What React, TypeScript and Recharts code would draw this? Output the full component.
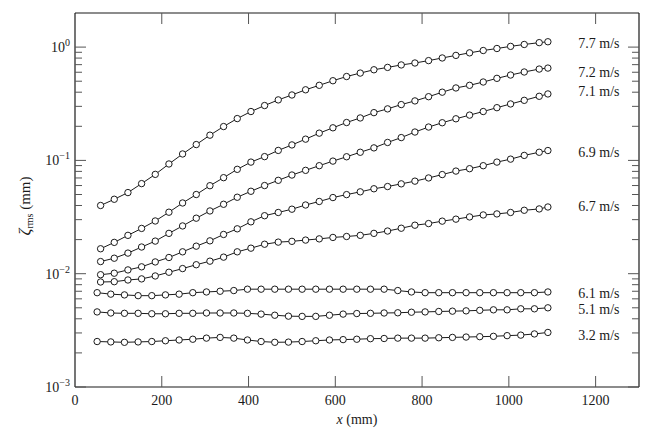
import React from 'react';
import { LineChart, Line, XAxis, YAxis, ReferenceDot } from 'recharts';

const FONT = '"Liberation Serif", "Times New Roman", Times, serif';
const INK = '#1a1a1a';
const TICK = '#555';

// x positions (mm) of the measurement stations
const xsUpper = [59, 90.5, 122, 153.5, 185, 216.5, 248, 279.5, 311, 342.5, 374, 405.5, 437, 468.5, 500, 531.5, 563, 594.5, 626, 657.5, 689, 720.5, 752, 783.5, 815, 846.5, 878, 909.5, 941, 972.5, 1004, 1035.5, 1070, 1090];
const xsLower = [51, 82.5, 114, 145.5, 177, 208.5, 240, 271.5, 303, 334.5, 366, 397.5, 429, 460.5, 492, 523.5, 555, 586.5, 618, 649.5, 681, 712.5, 744, 775.5, 807, 838.5, 870, 901.5, 933, 964.5, 996, 1027.5, 1059, 1090];

// zeta_rms (mm) per wind speed
const z77 = [0.040, 0.0454, 0.052, 0.0624, 0.0753, 0.093, 0.114, 0.138, 0.167, 0.199, 0.234, 0.270, 0.305, 0.342, 0.378, 0.420, 0.460, 0.505, 0.550, 0.590, 0.631, 0.662, 0.696, 0.724, 0.760, 0.802, 0.845, 0.89, 0.933, 0.972, 1.015, 1.055, 1.095, 1.115];
const z72 = [0.0166, 0.0189, 0.0218, 0.0251, 0.0292, 0.0349, 0.0421, 0.050, 0.0598, 0.0704, 0.0834, 0.0966, 0.108, 0.1225, 0.137, 0.154, 0.174, 0.194, 0.216, 0.237, 0.264, 0.285, 0.311, 0.335, 0.365, 0.400, 0.436, 0.460, 0.492, 0.530, 0.567, 0.603, 0.640, 0.653];
const z71 = [0.0128, 0.0137, 0.0152, 0.0172, 0.0194, 0.0227, 0.0264, 0.0309, 0.0358, 0.041, 0.0473, 0.0534, 0.0600, 0.0667, 0.0743, 0.0817, 0.0898, 0.0986, 0.1077, 0.118, 0.129, 0.144, 0.159, 0.178, 0.197, 0.215, 0.233, 0.251, 0.270, 0.292, 0.315, 0.339, 0.368, 0.386];
const z69 = [0.0098, 0.0101, 0.0108, 0.0115, 0.0127, 0.0139, 0.0156, 0.0175, 0.0195, 0.0222, 0.0249, 0.0287, 0.0325, 0.0347, 0.0371, 0.0404, 0.0434, 0.047, 0.0499, 0.0528, 0.0562, 0.0588, 0.0621, 0.0656, 0.0700, 0.0750, 0.0805, 0.0845, 0.0898, 0.0966, 0.1026, 0.1107, 0.118, 0.1222];
const z67 = [0.00845, 0.0085, 0.0088, 0.0090, 0.00955, 0.0103, 0.0111, 0.0120, 0.0129, 0.0140, 0.0156, 0.0168, 0.0182, 0.0190, 0.0193, 0.0198, 0.0203, 0.0209, 0.0213, 0.0218, 0.0227, 0.0238, 0.0252, 0.0268, 0.0277, 0.0291, 0.0303, 0.0317, 0.033, 0.0337, 0.0347, 0.0363, 0.0373, 0.0388];
const z61 = [0.0068, 0.0066, 0.0065, 0.0064, 0.0064, 0.0065, 0.0066, 0.0068, 0.0069, 0.0070, 0.0071, 0.0073, 0.0073, 0.0073, 0.0073, 0.0073, 0.0073, 0.0073, 0.0073, 0.0073, 0.0073, 0.0073, 0.0071, 0.0069, 0.0068, 0.0068, 0.0068, 0.0068, 0.0068, 0.0068, 0.0068, 0.0068, 0.0068, 0.0069];
const z51 = [0.0046, 0.0045, 0.00447, 0.00447, 0.00443, 0.00443, 0.00447, 0.00447, 0.0045, 0.0045, 0.0045, 0.00447, 0.0044, 0.0043, 0.00422, 0.0042, 0.0042, 0.0043, 0.0044, 0.00445, 0.00447, 0.0045, 0.00452, 0.00457, 0.0046, 0.00464, 0.00467, 0.0047, 0.00475, 0.0048, 0.0048, 0.0049, 0.0049, 0.005];
const z32 = [0.00252, 0.0025, 0.00248, 0.0025, 0.00252, 0.00256, 0.0026, 0.00264, 0.0027, 0.00274, 0.0027, 0.0026, 0.00252, 0.00248, 0.00249, 0.00252, 0.00256, 0.0026, 0.00262, 0.00264, 0.00267, 0.00268, 0.0027, 0.0027, 0.0027, 0.00272, 0.00274, 0.00276, 0.00278, 0.0028, 0.00284, 0.00287, 0.00294, 0.00303];

// speed labels and where they sit (value on the y axis)
const speedLabels = ['7.7 m/s', '7.2 m/s', '7.1 m/s', '6.9 m/s', '6.7 m/s', '6.1 m/s', '5.1 m/s', '3.2 m/s'];
const labelValues = [1.097, 0.598, 0.413, 0.118, 0.0396, 0.00673, 0.00489, 0.0029];
const labelX = 1160;

// axis ticks
const X_MIN = 0;
const X_MAX = 1300;
const Y_MIN = 0.001;
const Y_MAX = 2;
const xTicks = [0, 200, 400, 600, 800, 1000, 1200];
const xTickMarks = [200, 400, 600, 800, 1000, 1200];
const yMajorValues = [0.001, 0.01, 0.1, 1];
const yMajorExponents = ['\u22123', '\u22122', '\u22121', '0'];
const yMinorValues = [
  0.002, 0.003, 0.004, 0.005, 0.006, 0.007, 0.008, 0.009,
  0.02, 0.03, 0.04, 0.05, 0.06, 0.07, 0.08, 0.09,
  0.2, 0.3, 0.4, 0.5, 0.6, 0.7, 0.8, 0.9,
];

const seriesList = [
  { name: '7.7', xs: xsUpper, ys: z77 },
  { name: '7.2', xs: xsUpper, ys: z72 },
  { name: '7.1', xs: xsUpper, ys: z71 },
  { name: '6.9', xs: xsUpper, ys: z69 },
  { name: '6.7', xs: xsUpper, ys: z67 },
  { name: '6.1', xs: xsLower, ys: z61 },
  { name: '5.1', xs: xsLower, ys: z51 },
  { name: '3.2', xs: xsLower, ys: z32 },
].map((s) => ({ name: s.name, data: s.xs.map((x, i) => ({ x, y: s.ys[i] })) }));

const majorIndex = (v: number) => yMajorValues.findIndex((m) => Math.abs(m - v) / m < 1e-6);

const LeftTickLabel = (props: any) => {
  const { x, y, payload } = props;
  const i = majorIndex(payload.value);
  return (
    <text x={x - 5} y={y + 5} textAnchor="end" fontFamily={FONT} fontSize={14} fill={INK}>
      10
      <tspan dy={-6} fontSize={10}>{yMajorExponents[i]}</tspan>
    </text>
  );
};

const BottomTickLabel = (props: any) => {
  const { x, y, payload } = props;
  return (
    <text x={x} y={y + 18} textAnchor="middle" fontFamily={FONT} fontSize={14} fill={INK}>
      {payload.value}
    </text>
  );
};

// inward tick marks, anchored at a data point on the frame
const TickDown = (p: any) => <path d={`M${p.cx},${p.cy}v11`} stroke={TICK} strokeWidth={1} fill="none" />;
const TickUp = (p: any) => <path d={`M${p.cx},${p.cy}v-11`} stroke={TICK} strokeWidth={1} fill="none" />;
const TickRightMajor = (p: any) => <path d={`M${p.cx},${p.cy}h11`} stroke={TICK} strokeWidth={1} fill="none" />;
const TickRightMinor = (p: any) => <path d={`M${p.cx},${p.cy}h7`} stroke={TICK} strokeWidth={1} fill="none" />;
const TickLeftMajor = (p: any) => <path d={`M${p.cx},${p.cy}h-11`} stroke={TICK} strokeWidth={1} fill="none" />;
const TickLeftMinor = (p: any) => <path d={`M${p.cx},${p.cy}h-7`} stroke={TICK} strokeWidth={1} fill="none" />;

const XLabel = (props: any) => {
  const vb = props.viewBox || { x: 75, y: 387, width: 564, height: 50 };
  return (
    <text x={vb.x + vb.width / 2} y={vb.y + 37} textAnchor="middle" fontFamily={FONT} fontSize={14} fill={INK}>
      <tspan fontStyle="italic">x</tspan> (mm)
    </text>
  );
};

const YLabel = (props: any) => {
  const vb = props.viewBox || { x: 0, y: 13, width: 75, height: 374 };
  const cx = vb.x + 30;
  const cy = vb.y + vb.height / 2 + 6;
  return (
    <text
      x={cx}
      y={cy}
      transform={`rotate(-90, ${cx}, ${cy})`}
      textAnchor="middle"
      fontFamily={FONT}
      fontSize={15}
      fill={INK}
    >
      <tspan fontStyle="italic" fontSize={17}>{'\u03B6'}</tspan>
      <tspan fontSize={10} dy={3}>rms</tspan>
      <tspan dy={-3}> (mm)</tspan>
    </text>
  );
};

const speedShapes = speedLabels.map((text) => (p: any) => (
  <text x={p.cx} y={p.cy + 5} textAnchor="start" fontFamily={FONT} fontSize={14} fill={INK}>
    {text}
  </text>
));

export default function App() {
  return (
    <div style={{ position: 'absolute', left: 0, top: 0 }}>
      <LineChart width={654} height={437} margin={{ top: 0, right: 0, bottom: 0, left: 0 }}>
        <XAxis
          xAxisId="b"
          dataKey="x"
          type="number"
          domain={[X_MIN, X_MAX]}
          ticks={xTicks}
          interval={0}
          orientation="bottom"
          height={50}
          tickSize={0}
          tickMargin={0}
          tickLine={false}
          axisLine={{ stroke: INK, strokeWidth: 1.2 }}
          tick={BottomTickLabel}
          label={XLabel}
          allowDataOverflow
        />
        <XAxis
          xAxisId="t"
          type="number"
          domain={[X_MIN, X_MAX]}
          orientation="top"
          height={13}
          tickLine={false}
          tick={false}
          axisLine={{ stroke: INK, strokeWidth: 1.2 }}
        />
        <YAxis
          yAxisId="l"
          type="number"
          scale="log"
          domain={[Y_MIN, Y_MAX]}
          ticks={yMajorValues}
          interval={0}
          orientation="left"
          width={75}
          tickSize={0}
          tickMargin={0}
          tickLine={false}
          axisLine={{ stroke: INK, strokeWidth: 1.2 }}
          tick={LeftTickLabel}
          label={YLabel}
          allowDataOverflow
        />
        <YAxis
          yAxisId="r"
          type="number"
          scale="log"
          domain={[Y_MIN, Y_MAX]}
          orientation="right"
          width={15}
          tickLine={false}
          tick={false}
          axisLine={{ stroke: INK, strokeWidth: 1.2 }}
        />
        {seriesList.map((s) => (
          <Line
            key={s.name}
            name={s.name}
            data={s.data}
            dataKey="y"
            xAxisId="b"
            yAxisId="l"
            type="linear"
            stroke={INK}
            strokeWidth={1}
            dot={{ r: 3.2, fill: '#fff', stroke: INK, strokeWidth: 1 }}
            activeDot={false}
            isAnimationActive={false}
          />
        ))}
        {xTickMarks.map((v) => (
          <ReferenceDot key={`xt${v}`} x={v} y={Y_MAX} xAxisId="b" yAxisId="l" r={0} ifOverflow="visible" shape={TickDown} />
        ))}
        {xTickMarks.map((v) => (
          <ReferenceDot key={`xb${v}`} x={v} y={Y_MIN} xAxisId="b" yAxisId="l" r={0} ifOverflow="visible" shape={TickUp} />
        ))}
        {yMajorValues.map((v) => (
          <ReferenceDot key={`yML${v}`} x={X_MIN} y={v} xAxisId="b" yAxisId="l" r={0} ifOverflow="visible" shape={TickRightMajor} />
        ))}
        {yMajorValues.map((v) => (
          <ReferenceDot key={`yMR${v}`} x={X_MAX} y={v} xAxisId="b" yAxisId="l" r={0} ifOverflow="visible" shape={TickLeftMajor} />
        ))}
        {yMinorValues.map((v) => (
          <ReferenceDot key={`ymL${v}`} x={X_MIN} y={v} xAxisId="b" yAxisId="l" r={0} ifOverflow="visible" shape={TickRightMinor} />
        ))}
        {yMinorValues.map((v) => (
          <ReferenceDot key={`ymR${v}`} x={X_MAX} y={v} xAxisId="b" yAxisId="l" r={0} ifOverflow="visible" shape={TickLeftMinor} />
        ))}
        {speedLabels.map((t, i) => (
          <ReferenceDot
            key={t}
            x={labelX}
            y={labelValues[i]}
            xAxisId="b"
            yAxisId="l"
            r={0}
            shape={speedShapes[i]}
          />
        ))}
      </LineChart>
    </div>
  );
}
